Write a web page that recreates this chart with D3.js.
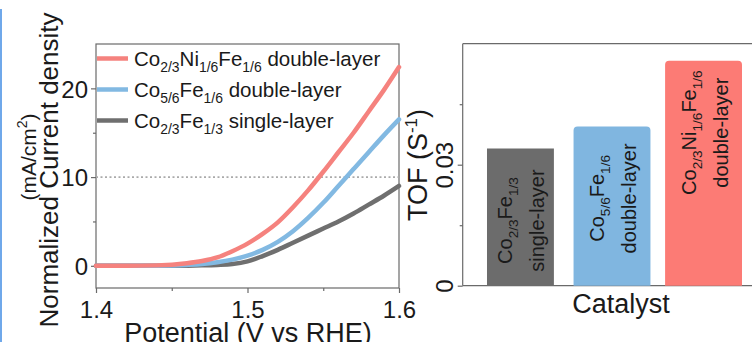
<!DOCTYPE html>
<html>
<head>
<meta charset="utf-8">
<script src="https://cdn.jsdelivr.net/npm/d3@7"></script>
<style>
  body { margin: 0; background: #fff; }
  svg { display: block; font-family: "Liberation Sans", Arial, sans-serif; }
</style>
</head>
<body>
<div id="chart"></div>
<script>
// LSV curves (current density, mA/cm2) vs potential (V vs RHE)
const potential = [1.40, 1.42, 1.44, 1.46, 1.47, 1.48, 1.49, 1.50, 1.51, 1.52, 1.53, 1.54, 1.55, 1.56, 1.57, 1.58, 1.59, 1.60];
const coNiFeDouble = [0, 0, 0.05, 0.3, 0.55, 0.95, 1.65, 2.5, 3.6, 4.9, 6.6, 8.5, 10.6, 12.8, 15.0, 17.4, 19.8, 22.4];
const coFeDouble = [0, 0, 0.02, 0.1, 0.2, 0.4, 0.7, 1.15, 1.8, 2.7, 3.9, 5.4, 7.1, 9.0, 10.9, 12.8, 14.7, 16.5];
const coFeSingle = [0, 0, 0, 0.02, 0.05, 0.1, 0.2, 0.5, 1.1, 1.8, 2.6, 3.4, 4.2, 5.0, 5.9, 6.9, 7.9, 9.0];
const xTicks = [1.4, 1.5, 1.6];
const yTicks = [0, 10, 20];

// TOF bars
const catalysts = ["single", "cofe", "conife"];
const tofValues = [0.034, 0.0395, 0.0558];
const tofTicks = [0, 0.03];

// label pieces: [text, isSub]
const names = {
  conife: [["Co", 0], ["2/3", 1], ["Ni", 0], ["1/6", 1], ["Fe", 0], ["1/6", 1]],
  cofe: [["Co", 0], ["5/6", 1], ["Fe", 0], ["1/6", 1]],
  single: [["Co", 0], ["2/3", 1], ["Fe", 0], ["1/3", 1]]
};
const layerText = { conife: "double-layer", cofe: "double-layer", single: "single-layer" };

const lineColor = { conife: "#f5827e", cofe: "#82b9e2", single: "#6f6f6f" };
const barColor = { conife: "#fc7b75", cofe: "#80b6e0", single: "#6c6c6c" };

const W = 752, H = 342;
const svg = d3.select("#chart").append("svg").attr("width", W).attr("height", H);

// blue selection edge at far left
svg.append("rect").attr("x", 0).attr("y", 9).attr("width", 2).attr("height", H - 9).attr("fill", "#6fa8ea");

const axisColor = "#6a6a6a";
const txt = "#1a1a1a";

// writes text pieces with subscripts, shifting baseline only where needed
function richText(sel, parts, size) {
  const shift = size * 0.3;
  let cur = 0;
  parts.forEach(([t, sub]) => {
    const target = sub ? shift : 0;
    sel.append("tspan")
      .attr("font-size", sub ? size * 0.68 : size)
      .attr("dy", target - cur)
      .text(t);
    cur = target;
  });
}

// ---------- left: LSV ----------
const x = d3.scaleLinear().domain([1.4, 1.6]).range([96, 399]);
const y = d3.scaleLinear().domain([-2.5, 25]).range([288, 44]);

const left = svg.append("g");

// frame
left.append("rect")
  .attr("x", x.range()[0]).attr("y", y.range()[1])
  .attr("width", x.range()[1] - x.range()[0]).attr("height", y.range()[0] - y.range()[1])
  .attr("fill", "none").attr("stroke", axisColor).attr("stroke-width", 1.2);

// 10 mA/cm2 reference line
left.append("line")
  .attr("x1", x(1.4)).attr("x2", x(1.6)).attr("y1", y(10)).attr("y2", y(10))
  .attr("stroke", "#aaaaaa").attr("stroke-width", 1.6).attr("stroke-dasharray", "2,2.5");

const xAxis = left.append("g").attr("transform", `translate(0,${y.range()[0]})`)
  .call(d3.axisBottom(x).tickValues(xTicks).tickSize(5).tickFormat(d3.format(".1f")));
left.append("g").attr("transform", `translate(0,${y.range()[0]})`)
  .call(d3.axisBottom(x).tickValues([1.45, 1.55]).tickSize(3).tickFormat(""));
const yAxis = left.append("g").attr("transform", `translate(${x.range()[0]},0)`)
  .call(d3.axisLeft(y).tickValues(yTicks).tickSize(5).tickPadding(3));
left.append("g").attr("transform", `translate(${x.range()[0]},0)`)
  .call(d3.axisLeft(y).tickValues([5, 15]).tickSize(3).tickFormat(""));

left.selectAll(".domain").remove();
left.selectAll(".tick line").attr("stroke", axisColor).attr("stroke-width", 1.2);
xAxis.selectAll(".tick text").attr("font-size", 24).attr("fill", txt).attr("dy", 0).attr("y", 30);
yAxis.selectAll(".tick text").attr("font-size", 24).attr("fill", txt).attr("dy", "0.36em");

// curves
const series = [
  { key: "single", vals: coFeSingle },
  { key: "cofe", vals: coFeDouble },
  { key: "conife", vals: coNiFeDouble }
];
const line = d3.line().x((d, i) => x(potential[i])).y(d => y(d)).curve(d3.curveMonotoneX);
left.append("g").selectAll("path").data(series).join("path")
  .attr("d", d => line(d.vals))
  .attr("fill", "none").attr("stroke", d => lineColor[d.key])
  .attr("stroke-width", 4.5).attr("stroke-linecap", "round");

// legend
const legendKeys = ["conife", "cofe", "single"];
const leg = left.append("g").selectAll("g").data(legendKeys).join("g")
  .attr("transform", (d, i) => `translate(97,${58.5 + i * 31})`);
leg.append("line").attr("x1", 0).attr("x2", 31).attr("stroke", d => lineColor[d]).attr("stroke-width", 4.5);
leg.append("text").attr("x", 37).attr("y", 7).attr("fill", txt).attr("font-size", 20.5)
  .each(function(d) {
    richText(d3.select(this), names[d].concat([[" " + layerText[d], 0]]), 20.5);
  });

// axis titles
left.append("text").attr("transform", "translate(58,170) rotate(-90)")
  .attr("text-anchor", "middle").attr("font-size", 26).attr("fill", txt)
  .text("Normalized Current density");
const unit = left.append("text").attr("transform", "translate(36,157) rotate(-90)")
  .attr("text-anchor", "middle").attr("font-size", 21).attr("fill", txt);
unit.append("tspan").text("(mA/cm");
unit.append("tspan").attr("font-size", 14).attr("dy", -9).text("2");
unit.append("tspan").attr("dy", 9).text(")");
left.append("text").attr("x", 248).attr("y", 342).attr("text-anchor", "middle")
  .attr("font-size", 27).attr("fill", txt).text("Potential (V vs RHE)");

// ---------- right: TOF ----------
const xb = d3.scaleBand().domain(catalysts).range([482, 742]).paddingInner(0.16).paddingOuter(0);
const yb = d3.scaleLinear().domain([0, 0.06]).range([285.7, 43.7]);
const widthFrac = { single: 0.87, cofe: 1, conife: 1 };
const rounded = { single: 0, cofe: 4, conife: 4 };

const right = svg.append("g");
right.append("line").attr("x1", 462.7).attr("x2", W).attr("y1", yb.range()[1]).attr("y2", yb.range()[1])
  .attr("stroke", axisColor).attr("stroke-width", 1.2);
right.append("line").attr("x1", 462.7).attr("x2", W).attr("y1", yb.range()[0]).attr("y2", yb.range()[0])
  .attr("stroke", axisColor).attr("stroke-width", 1.2);
right.append("line").attr("x1", 462.7).attr("x2", 462.7).attr("y1", yb.range()[1]).attr("y2", yb.range()[0])
  .attr("stroke", axisColor).attr("stroke-width", 1.2);

const tofAxis = right.append("g").attr("transform", "translate(462.7,0)")
  .call(d3.axisLeft(yb).tickValues(tofTicks).tickSize(5).tickFormat(d => d === 0 ? "0" : d3.format(".2f")(d)));
right.append("g").attr("transform", "translate(462.7,0)")
  .call(d3.axisLeft(yb).tickValues([0.015, 0.045]).tickSize(3).tickFormat(""));
right.selectAll(".domain").remove();
right.selectAll(".tick line").attr("stroke", axisColor).attr("stroke-width", 1.2);
tofAxis.selectAll(".tick text")
  .attr("x", null).attr("dy", null)
  .attr("text-anchor", "middle").attr("font-size", 24).attr("fill", txt)
  .attr("transform", "translate(-10,0) rotate(-90)");

const bars = right.append("g").selectAll("g").data(catalysts).join("g");
bars.append("path")
  .attr("d", (d, i) => {
    const bw = xb.bandwidth() * widthFrac[d];
    const x0 = xb(d) + (xb.bandwidth() - bw) / 2, x1 = x0 + bw;
    const y0 = yb(0), y1 = yb(tofValues[i]), r = rounded[d];
    return `M${x0},${y0}V${y1 + r}Q${x0},${y1} ${x0 + r},${y1}H${x1 - r}Q${x1},${y1} ${x1},${y1 + r}V${y0}Z`;
  })
  .attr("fill", d => barColor[d]);

bars.each(function(d, i) {
  const g = d3.select(this);
  const cx = xb(d) + xb.bandwidth() / 2;
  const cy = yb(tofValues[i]) + 72;
  const t1 = g.append("text").attr("transform", `translate(${cx - 8},${cy}) rotate(-90)`)
    .attr("text-anchor", "middle").attr("fill", txt).attr("font-size", 20);
  richText(t1, names[d], 20);
  g.append("text").attr("transform", `translate(${cx + 24},${cy}) rotate(-90)`)
    .attr("text-anchor", "middle").attr("fill", txt).attr("font-size", 20)
    .text(layerText[d]);
});

const tof = right.append("text").attr("transform", "translate(427,165) rotate(-90)")
  .attr("text-anchor", "middle").attr("font-size", 27).attr("fill", txt);
tof.append("tspan").text("TOF (S");
tof.append("tspan").attr("font-size", 17).attr("dy", -10).text("-1");
tof.append("tspan").attr("dy", 10).text(")");

right.append("text").attr("x", 621).attr("y", 313).attr("text-anchor", "middle")
  .attr("font-size", 27).attr("fill", txt).text("Catalyst");
</script>
</body>
</html>
